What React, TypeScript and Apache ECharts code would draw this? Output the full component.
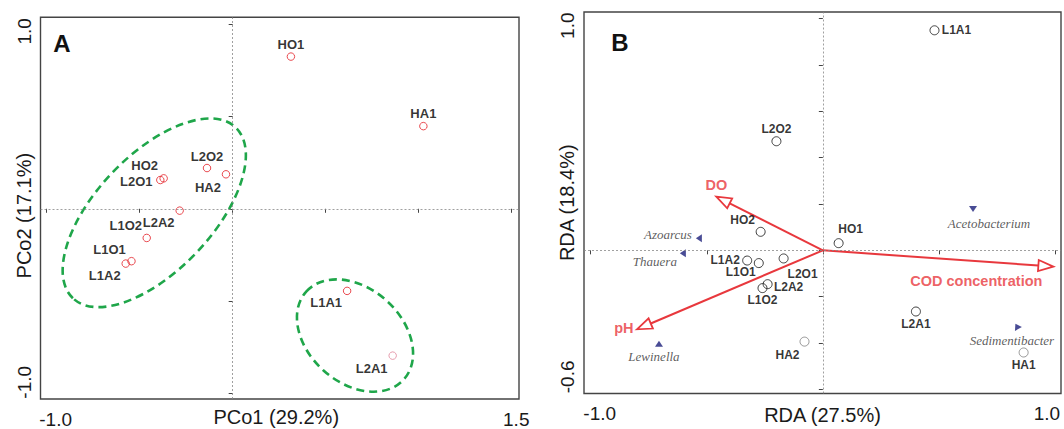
import React, { useEffect, useRef } from 'react';
import * as echarts from 'echarts';

// ---------- Panel A: PCoA ----------
const samplesA = ['HO1', 'HA1', 'L2O2', 'HA2', 'HO2', 'L2O1', 'L2A2', 'L1O2', 'L1O1', 'L1A2', 'L1A1', 'L2A1'];
const pco1 = [0.313, 1.025, -0.138, -0.036, -0.371, -0.389, -0.285, -0.462, -0.544, -0.575, 0.615, 0.86];
const pco2 = [0.825, 0.448, 0.221, 0.187, 0.165, 0.156, -0.01, -0.158, -0.284, -0.297, -0.445, -0.796];

// group ellipses: centre (x, y), semi-axes (data units), tilt (degrees)
const ellipseCx = [-0.4215, 0.6575];
const ellipseCy = [-0.0217, -0.687];
const ellipseA = [0.634, 0.353];
const ellipseB = [0.312, 0.253];
const ellipseTilt = [46.4, -42];

// ---------- Panel B: RDA ----------
const samplesB = ['L1A1', 'L2O2', 'HO2', 'HO1', 'L1A2', 'L1O1', 'L2O1', 'L2A2', 'L1O2', 'L2A1', 'HA2', 'HA1'];
const rda1 = [0.481, -0.2, -0.268, 0.068, -0.326, -0.276, -0.169, -0.238, -0.26, 0.401, -0.079, 0.865];
const rda2 = [0.95, 0.471, 0.08, 0.031, -0.044, -0.055, -0.035, -0.146, -0.163, -0.264, -0.394, -0.441];

const species = ['Azoarcus', 'Thauera', 'Lewinella', 'Acetobacterium', 'Sedimentibacter'];
const speciesX = [-0.534, -0.603, -0.706, 0.647, 0.836];
const speciesY = [0.052, -0.013, -0.403, 0.178, -0.328];

const envVars = ['DO', 'pH', 'COD concentration'];
const envX = [-0.459, -0.801, 0.993];
const envY = [0.232, -0.341, -0.07];

// ---------- ticks ----------
const ticksAX = [-1, -0.5, 0, 0.5, 1, 1.5];
const ticksAY = [-1, -0.5, 0, 0.5, 1];
const ticksBX = [-1, -0.5, 0, 0.5, 1];
const ticksBY = [-0.6, -0.4, -0.2, 0, 0.2, 0.4, 0.6, 0.8, 1.0];
const labelValsAX = [-1, 1.5];
const labelTxtAX = ['-1.0', '1.5'];
const labelValsAY = [-1, 1];
const labelTxtAY = ['-1.0', '1.0'];
const labelValsBX = [-1, 1];
const labelTxtBX = ['-1.0', '1.0'];
const labelValsBY = [-0.6, 1];
const labelTxtBY = ['-0.6', '1.0'];

// ---------- styling (positions / offsets) ----------
const labelOffsetA = [[0, -12], [0, -13], [0, -12], [-18, 13], [-19, -13], [-24, 1], [-21, 12], [-21, -12], [-22, -12], [-21, 12], [-21, 12], [-21, 13]];
const labelOffsetB = [[22, 0], [0, -12], [-18, -12], [12, -14], [-22, -1], [-18, 9], [19, 16], [21, 3], [0, 12], [0, 12], [-17, 13], [0, 12]];
const speciesOffset = [[-31, -4], [-28, 8], [-5, 13], [16, 14], [-5, 14]];
const speciesRotate = [90, 90, 0, 180, 30];
const envOffset = [[0, -12], [-13, -1], [-77, 14]];

const FONT = "'Liberation Sans', Arial, Helvetica, sans-serif";
const SERIF = "'Liberation Serif', 'Times New Roman', serif";
const RED = '#e8383d';
const GREEN = '#1fa64a';
const TXT = '#1a1a1a';

function endLabels(values: number[], texts: string[], pads: number[][], margin: number, rotate = 0) {
  const rich: any = {};
  pads.forEach((p, i) => {
    rich['t' + i] = { padding: p, fontSize: 19, color: TXT, fontFamily: FONT };
  });
  return {
    show: true,
    customValues: values,
    margin,
    rotate,
    fontSize: 19,
    color: TXT,
    fontFamily: FONT,
    formatter: (v: number) => {
      const i = values.findIndex((u) => Math.abs(u - v) < 1e-9);
      return i < 0 ? '' : `{t${i}|${texts[i]}}`;
    },
    rich,
  };
}

function tick(values: number[]) {
  return { show: true, customValues: values, length: 4, inside: false, lineStyle: { color: '#444', width: 1 } };
}

const nameStyle = (padding: number[]) => ({ fontSize: 20, color: TXT, fontFamily: FONT, padding });

const crossLines = {
  silent: true,
  symbol: ['none', 'none'],
  label: { show: false },
  lineStyle: { type: [2, 2], color: '#888', width: 0.8 },
  data: [{ xAxis: 0 }, { yAxis: 0 }],
};

function buildOption() {
  const ptsA = samplesA.map((n, i) => ({
    name: n,
    value: [pco1[i], pco2[i]],
    itemStyle: n === 'L2A1' ? { borderColor: '#e0849a' } : undefined,
    label: { offset: labelOffsetA[i] },
  }));
  const ptsB = samplesB.map((n, i) => ({
    name: n,
    value: [rda1[i], rda2[i]],
    itemStyle: n === 'HA1' || n === 'HA2' ? { borderColor: '#7a7a7a' } : undefined,
    label: { offset: labelOffsetB[i] },
  }));
  const sp = species.map((n, i) => ({
    name: n,
    value: [speciesX[i], speciesY[i]],
    symbolRotate: speciesRotate[i],
    label: { offset: speciesOffset[i] },
  }));
  const env = envVars.map((n, i) => ({ name: n, value: [envX[i], envY[i]], label: { offset: envOffset[i] } }));
  const ell = ellipseCx.map((c, i) => [c, ellipseCy[i], ellipseA[i], ellipseB[i], ellipseTilt[i]]);

  return {
    animation: false,
    backgroundColor: '#fff',
    grid: [
      { left: 40.5, top: 17.3, width: 478.5, height: 381.7, show: true, borderColor: '#444', borderWidth: 1.4, backgroundColor: 'transparent', outerBoundsMode: 'none' },
      { left: 584, top: 12, width: 477, height: 381.5, show: true, borderColor: '#444', borderWidth: 1.4, backgroundColor: 'transparent', outerBoundsMode: 'none' },
    ],
    xAxis: [
      {
        gridIndex: 0, type: 'value', min: -1.033, max: 1.539,
        name: 'PCo1 (29.2%)', nameLocation: 'middle', nameGap: 8, nameMoveOverlap: false,
        nameTextStyle: nameStyle([0, 7, 0, 0]),
        axisLine: { show: false }, splitLine: { show: false },
        axisTick: tick(ticksAX),
        axisLabel: endLabels(labelValsAX, labelTxtAX, [[0, 0, 0, 18], [0, 0, 0, 9]], 11),
      },
      {
        gridIndex: 1, type: 'value', min: -1.029, max: 1.026,
        name: 'RDA (27.5%)', nameLocation: 'middle', nameGap: 11, nameMoveOverlap: false,
        nameTextStyle: nameStyle([0, 0, 0, 0]),
        axisLine: { show: false }, splitLine: { show: false },
        axisTick: tick(ticksBX),
        axisLabel: endLabels(labelValsBX, labelTxtBX, [[0, 0, 0, 18], [0, 16, 0, 0]], 10),
      },
    ],
    yAxis: [
      {
        gridIndex: 0, type: 'value', min: -1.031, max: 1.038,
        name: 'PCo2 (17.1%)', nameLocation: 'middle', nameGap: 7, nameMoveOverlap: false,
        nameTextStyle: nameStyle([0, 15, 0, 0]),
        axisLine: { show: false }, splitLine: { show: false },
        axisTick: tick(ticksAY),
        axisLabel: endLabels(labelValsAY, labelTxtAY, [[0, 0, 0, 22], [0, 14, 0, 0]], 7, 90),
      },
      {
        gridIndex: 1, type: 'value', min: -0.618, max: 1.029,
        name: 'RDA (18.4%)', nameLocation: 'middle', nameGap: 7, nameMoveOverlap: false,
        nameTextStyle: nameStyle([0, 0, 0, 0]),
        axisLine: { show: false }, splitLine: { show: false },
        axisTick: tick(ticksBY),
        axisLabel: endLabels(labelValsBY, labelTxtBY, [[0, 0, 0, 25], [0, 14, 0, 0]], 7, 90),
      },
    ],
    graphic: [
      { type: 'text', x: 62, y: 43, style: { text: 'A', fontSize: 24, fontWeight: 'bold', fontFamily: FONT, fill: '#111', align: 'center', verticalAlign: 'middle' } },
      { type: 'text', x: 620, y: 42, style: { text: 'B', fontSize: 24, fontWeight: 'bold', fontFamily: FONT, fill: '#111', align: 'center', verticalAlign: 'middle' } },
    ],
    series: [
      // ---- Panel A ----
      {
        type: 'custom', xAxisIndex: 0, yAxisIndex: 0, data: ell, silent: true,
        renderItem: (_p: any, api: any) => {
          const c = api.coord([api.value(0), api.value(1)]);
          const rx = api.size([api.value(2), 0])[0];
          const ry = api.size([api.value(3), 0])[0];
          return {
            type: 'ellipse', x: c[0], y: c[1], rotation: (api.value(4) * Math.PI) / 180,
            shape: { cx: 0, cy: 0, rx, ry },
            style: { fill: 'none', stroke: GREEN, lineWidth: 2.6, lineDash: [8, 5] },
          };
        },
      },
      {
        type: 'scatter', xAxisIndex: 0, yAxisIndex: 0, data: ptsA, symbol: 'circle', symbolSize: 7.5,
        itemStyle: { color: 'rgba(0,0,0,0)', borderColor: '#e41e26', borderWidth: 1 },
        label: { show: true, position: 'inside', formatter: '{b}', fontSize: 13, fontWeight: 'bold', fontFamily: FONT, color: '#000' },
        markLine: crossLines,
        z: 5,
      },
      // ---- Panel B ----
      {
        type: 'custom', xAxisIndex: 1, yAxisIndex: 1, data: env.map((e) => e.value), silent: true, z: 3,
        renderItem: (_p: any, api: any) => {
          const o = api.coord([0, 0]);
          const t = api.coord([api.value(0), api.value(1)]);
          const dx = t[0] - o[0];
          const dy = t[1] - o[1];
          const len = Math.hypot(dx, dy);
          const ux = dx / len;
          const uy = dy / len;
          const hl = 15;
          const hw = 5.5;
          const bx = t[0] - ux * hl;
          const by = t[1] - uy * hl;
          return {
            type: 'group',
            children: [
              { type: 'line', shape: { x1: o[0], y1: o[1], x2: bx, y2: by }, style: { stroke: RED, lineWidth: 2 } },
              {
                type: 'polygon',
                shape: { points: [[t[0], t[1]], [bx - uy * hw, by + ux * hw], [bx + uy * hw, by - ux * hw]] },
                style: { fill: '#fff', stroke: RED, lineWidth: 1.8 },
              },
            ],
          };
        },
      },
      {
        type: 'scatter', xAxisIndex: 1, yAxisIndex: 1, data: env, symbolSize: 1, silent: true, z: 4,
        itemStyle: { color: 'rgba(0,0,0,0)' },
        label: { show: true, position: 'inside', formatter: '{b}', fontSize: 14.5, fontWeight: 'bold', fontFamily: FONT, color: RED },
      },
      {
        type: 'scatter', xAxisIndex: 1, yAxisIndex: 1, data: sp, symbol: 'triangle', symbolSize: [8, 6], z: 4,
        itemStyle: { color: '#1b1f7a' },
        label: { show: true, position: 'inside', formatter: '{b}', fontSize: 13, fontStyle: 'italic', fontFamily: SERIF, color: '#333' },
      },
      {
        type: 'scatter', xAxisIndex: 1, yAxisIndex: 1, data: ptsB, symbol: 'circle', symbolSize: 9, z: 5,
        itemStyle: { color: 'rgba(0,0,0,0)', borderColor: '#111', borderWidth: 1 },
        label: { show: true, position: 'inside', formatter: '{b}', fontSize: 12, fontWeight: 'bold', fontFamily: FONT, color: '#000' },
        markLine: crossLines,
      },
    ],
  };
}

export default function App() {
  const ref = useRef<HTMLDivElement>(null);
  useEffect(() => {
    const chart = echarts.init(ref.current as HTMLDivElement, null, { renderer: 'svg' });
    chart.setOption(buildOption() as any);
    return () => chart.dispose();
  }, []);
  return (
    <div
      ref={ref}
      style={{ position: 'fixed', left: 0, top: 0, width: 1064, height: 429, background: '#fff' }}
    />
  );
}
